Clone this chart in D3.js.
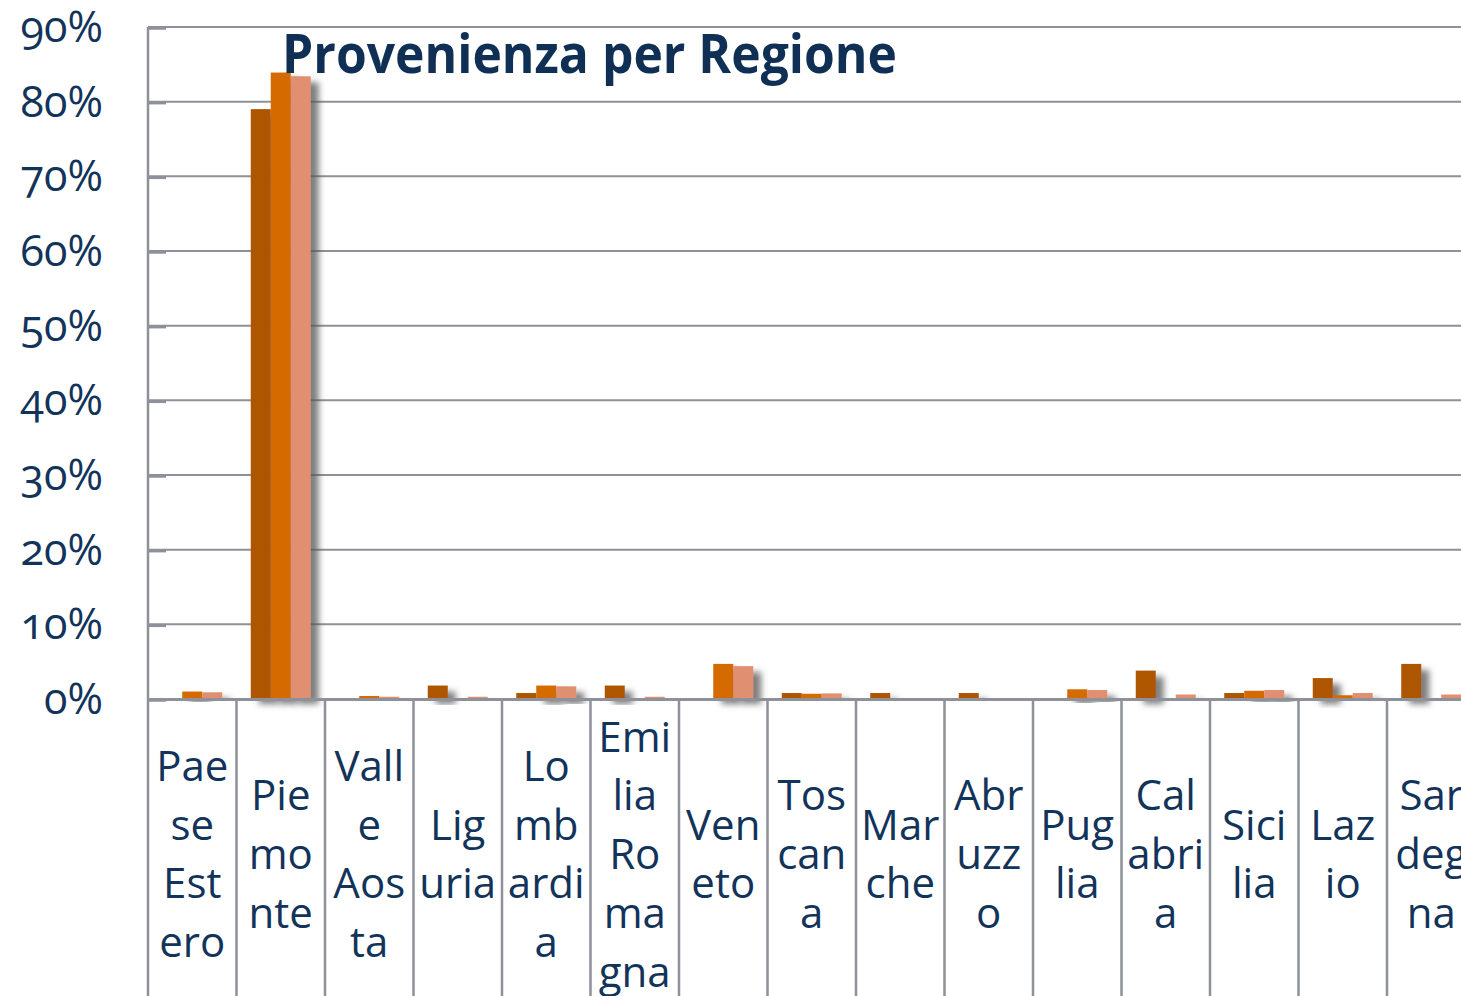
<!DOCTYPE html>
<html>
<head>
<meta charset="utf-8">
<script src="https://cdn.jsdelivr.net/npm/d3@7"></script>
<style>
  html, body { margin: 0; padding: 0; background: #fff; overflow: hidden; }
  svg { display: block; }
  text { font-family: "Open Sans", "Noto Sans", sans-serif; }
</style>
</head>
<body>
<svg id="chart" width="1461" height="996"></svg>
<script>
// ---- data ----
const categories = ["Paese Estero","Piemonte","Valle e Aosta","Liguria","Lombardia","Emilia Romagna","Veneto","Toscana","Marche","Abruzzo","Puglia","Calabria","Sicilia","Lazio","Sardegna"];
const categoryLines = [
  ["Pae","se","Est","ero"],
  ["Pie","mo","nte"],
  ["Vall","e","Aos","ta"],
  ["Lig","uria"],
  ["Lo","mb","ardi","a"],
  ["Emi","lia","Ro","ma","gna"],
  ["Ven","eto"],
  ["Tos","can","a"],
  ["Mar","che"],
  ["Abr","uzz","o"],
  ["Pug","lia"],
  ["Cal","abri","a"],
  ["Sici","lia"],
  ["Laz","io"],
  ["Sar","deg","na"]
];
const seriesNames = ["Serie 1","Serie 2","Serie 3"];
const series1 = [0, 79.0, 0, 1.8, 0.8, 1.8, 0, 0.8, 0.8, 0.8, 0, 3.8, 0.8, 2.8, 4.7];
const series2 = [1.0, 83.9, 0.4, 0.1, 1.8, 0.1, 4.7, 0.7, 0, 0, 1.3, 0.1, 1.1, 0.5, 0.1];
const series3 = [0.9, 83.4, 0.3, 0.3, 1.7, 0.3, 4.4, 0.75, 0.1, 0.1, 1.2, 0.6, 1.2, 0.8, 0.6];
const yTicks = [0, 10, 20, 30, 40, 50, 60, 70, 80, 90];
const title = "Provenienza per Regione";

const seriesValues = [series1, series2, series3];
const colors = ["#AE5400", "#D46A00", "#E09070"];
const gridColor = "#8E9199";
const textColor = "#12335A";

const svg = d3.select("#chart");
const mLeft = 148, mRight = 1475.5, mTop = 27, mBottom = 699;

const x = d3.scaleBand().domain(categories).range([mLeft, mRight]).padding(0);
const xs = d3.scaleBand().domain(seriesNames).range([0, x.bandwidth()]).paddingInner(0).paddingOuter(0.7125);
const y = d3.scaleLinear().domain([0, 90]).range([mBottom, mTop]);

// shadow filter
const defs = svg.append("defs");
const f = defs.append("filter").attr("id", "shadow").attr("x", "-50%").attr("y", "-50%").attr("width", "250%").attr("height", "200%");
f.append("feDropShadow").attr("dx", 8).attr("dy", 6).attr("stdDeviation", 3)
  .attr("flood-color", "#555").attr("flood-opacity", 0.75);

// gridlines
svg.append("g").selectAll("line").data(yTicks.slice(1)).join("line")
  .attr("x1", mLeft).attr("x2", 1461)
  .attr("y1", d => y(d)).attr("y2", d => y(d))
  .attr("stroke", gridColor).attr("stroke-width", 2);

// y axis ticks (inside) and labels
const yAxis = d3.axisLeft(y).tickValues(yTicks).tickSize(-18).tickPadding(45).tickFormat(d => d + "%");
const gy = svg.append("g").attr("transform", `translate(${mLeft},0)`).call(yAxis);
gy.select(".domain").remove();
gy.selectAll(".tick line").attr("stroke", gridColor).attr("stroke-width", 2.5).attr("transform", "translate(0,1)");
gy.selectAll(".tick text")
  .attr("fill", textColor).attr("font-size", 43)
  .style("font-family", "'Open Sans', sans-serif")
  .style("font-variant-numeric", "oldstyle-nums")
  .attr("dy", "0.34em");

// bars
const gb = svg.append("g");
seriesValues.forEach((vals, si) => {
  gb.append("g").selectAll("rect").data(vals.map((v, i) => ({ v, c: categories[i] })).filter(d => d.v > 0)).join("rect")
    .attr("x", d => x(d.c) + xs(seriesNames[si]))
    .attr("width", xs.bandwidth())
    .attr("y", d => y(d.v))
    .attr("height", d => Math.max(0.8, y(0) - y(d.v) - 1))
    .attr("fill", colors[si])
    .attr("filter", "url(#shadow)");
});

// top border
svg.append("line").attr("x1", mLeft).attr("x2", 1461).attr("y1", mTop).attr("y2", mTop)
  .attr("stroke", gridColor).attr("stroke-width", 2);

// left axis line
svg.append("line").attr("x1", mLeft).attr("x2", mLeft).attr("y1", mTop).attr("y2", 996)
  .attr("stroke", gridColor).attr("stroke-width", 2.5);

// baseline
svg.append("line").attr("x1", mLeft).attr("x2", 1461).attr("y1", y(0) + 0.5).attr("y2", y(0) + 0.5)
  .attr("stroke", gridColor).attr("stroke-width", 3);

// category separators
svg.append("g").selectAll("line").data(categories.slice(1)).join("line")
  .attr("x1", d => x(d)).attr("x2", d => x(d))
  .attr("y1", y(0)).attr("y2", 996)
  .attr("stroke", gridColor).attr("stroke-width", 2.5);

// category labels
const lineH = 58.7, centerY = 854;
const gl = svg.append("g");
categories.forEach((c, i) => {
  const lines = categoryLines[i];
  const cx = x(c) + x.bandwidth() / 2;
  lines.forEach((t, k) => {
    gl.append("text")
      .attr("x", cx)
      .attr("y", centerY + (k - (lines.length - 1) / 2) * lineH)
      .attr("dy", "0.36em")
      .attr("text-anchor", "middle")
      .attr("font-size", 42)
      .attr("fill", textColor)
      .text(t);
  });
});

// title
svg.append("text").attr("x", 282).attr("y", 73)
  .attr("font-size", 54).attr("font-weight", "bold").attr("fill", "#0F2F55")
  .attr("textLength", 615).attr("lengthAdjust", "spacingAndGlyphs")
  .text(title);
</script>
</body>
</html>
